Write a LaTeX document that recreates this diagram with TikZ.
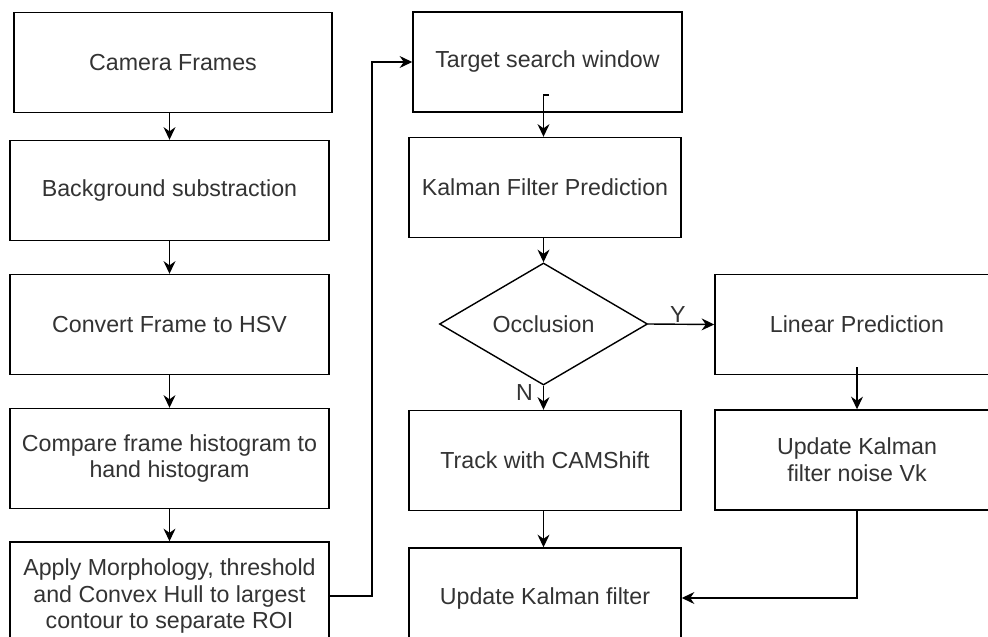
\documentclass[tikz,border=0pt]{standalone}
\usepackage{fontspec}
\setmainfont{Liberation Sans}
\usetikzlibrary{shapes.geometric,arrows.meta}
\definecolor{txtgray}{HTML}{333333}

\begin{document}
\begin{tikzpicture}[auto, x=0.025cm, y=-0.025cm, line width=1pt,
		>={Stealth[length=9pt,width=8.5pt,inset=3pt]},
		lbl/.style={font=\fontsize{16.5}{19}\selectfont, text=txtgray},
		box/.style={draw, lbl, align=center, inner sep=0pt, minimum height=2.5cm},
		wide/.style={box, minimum width=7.975cm},
		mid/.style={box, minimum width=6.8cm},
		side/.style={box, minimum width=7.1cm},
		decision/.style={draw, diamond, lbl, inner sep=0pt, minimum width=5.2cm, minimum height=3.05cm}]
				\useasboundingbox (0, 0) rectangle (988, 637);
				\fill[white] (0, 0) rectangle (988, 637);
				\clip (0, 0) rectangle (988, 637);

				\node[wide, minimum width=7.95cm] (cam) at (173, 62.5) {Camera Frames};
				\node[wide] (bg) at (169.5, 190.5) {Background substraction};
				\node[wide] (hsv) at (169.5, 324.5) {Convert Frame to HSV};
				\node[wide] (cmp) at (169.5, 458.5) {Compare frame histogram to\\hand histogram};
				\node[wide, minimum height=2.7cm] (morph) at (169.5, 596) {Apply Morphology, threshold\\and Convex Hull to largest\\contour to separate ROI};
				\draw[->] (cam.south -| bg.north) to (bg.north);
				\draw[->] (bg) to (hsv);
				\draw[->] (hsv) to (cmp);
				\draw[->] (cmp) to (morph);

				\node[mid, minimum width=6.725cm] (target) at (547.5, 62) {Target search window};
				\node[mid] (kfp) at (545, 187.5) {Kalman Filter Prediction};
				\node[decision] (occ) at (543.5, 324) {Occlusion};
				\node[mid] (track) at (545, 460.5) {Track with CAMShift};
				\node[mid] (upd) at (545, 598) {Update Kalman filter};
				\coordinate (loop) at (372, 596);
				\draw[->] (morph.east) -- (loop) |- (target.west);
				\coordinate (tick) at (549, 95);
				\draw[->] (tick) -- (tick -| occ) -- (kfp.north -| occ);
				\draw[->] (kfp.south -| occ) to (occ.north);
				\draw[->] (occ.south) to node[lbl, swap, pos=0.3, inner sep=7pt] {N} (occ.south |- track.north);
				\draw[->] (track.south -| occ) to (upd.north -| occ);

				\node[side] (lin) at (857, 324.5) {Linear Prediction};
				\node[side] (noise) at (857, 460) {Update Kalman\\filter noise Vk};
				\draw[->] (occ.east) to node[lbl, pos=0.45, inner sep=1pt] {Y} (lin.west);
				\draw[->] ([yshift=0.2cm]lin.south) to (noise.north);
				\draw[->] (noise.south) |- (upd.east);
			\end{tikzpicture}
\end{document}
